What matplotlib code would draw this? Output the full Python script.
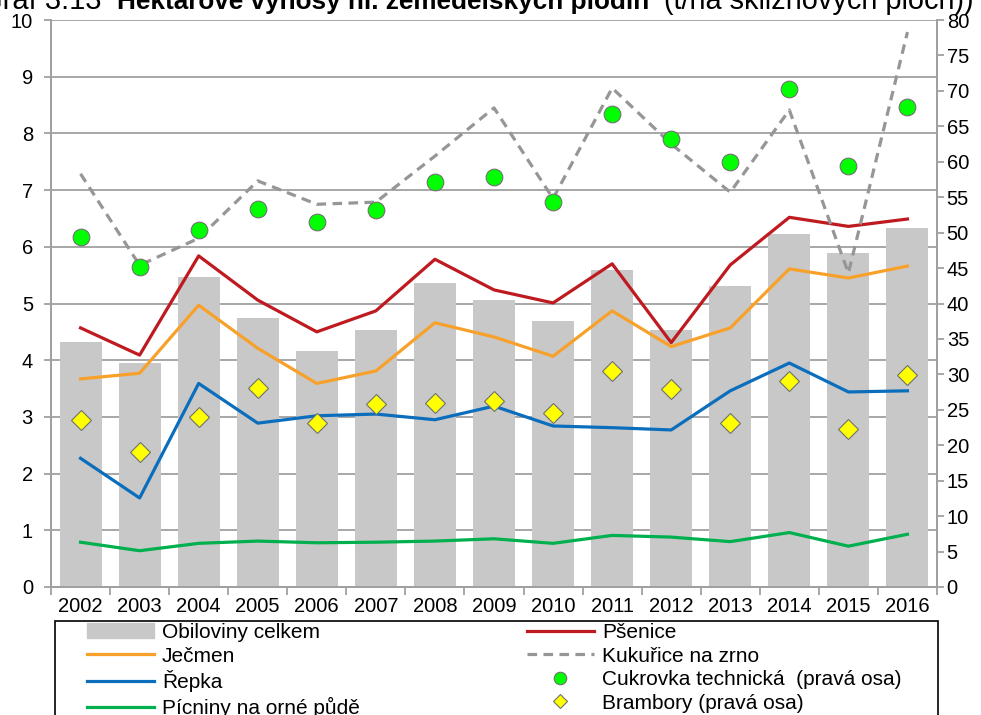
import matplotlib
matplotlib.use("Agg")
import matplotlib.pyplot as plt
from matplotlib.ticker import FixedLocator, NullFormatter
from matplotlib.lines import Line2D
from matplotlib.patches import Patch, Rectangle
import numpy as np

plt.rcParams['font.family'] = ['Liberation Sans', 'DejaVu Sans']

roky = ['2002', '2003', '2004', '2005', '2006', '2007', '2008', '2009',
        '2010', '2011', '2012', '2013', '2014', '2015', '2016']

# leva osa (t/ha)
obiloviny = [4.32, 3.95, 5.47, 4.74, 4.16, 4.53, 5.36, 5.06, 4.69, 5.59, 4.53, 5.31, 6.23, 5.89, 6.33]
psenice = [4.57, 4.09, 5.84, 5.06, 4.50, 4.87, 5.78, 5.24, 5.01, 5.70, 4.31, 5.68, 6.52, 6.36, 6.49]
jecmen = [3.67, 3.77, 4.97, 4.21, 3.59, 3.81, 4.66, 4.41, 4.07, 4.87, 4.24, 4.57, 5.61, 5.45, 5.66]
repka = [2.27, 1.57, 3.59, 2.89, 3.02, 3.05, 2.95, 3.19, 2.84, 2.81, 2.77, 3.46, 3.95, 3.44, 3.46]
picniny = [0.79, 0.64, 0.77, 0.81, 0.78, 0.79, 0.81, 0.85, 0.77, 0.91, 0.88, 0.80, 0.96, 0.72, 0.93]

# prava osa (t/ha)
kukurice = [58.3, 45.4, 49.2, 57.3, 54.0, 54.3, 60.8, 67.6, 54.8, 70.4, 62.5, 55.7, 67.3, 44.3, 78.3]
cukrovka = [49.4, 45.2, 50.4, 53.3, 51.5, 53.2, 57.1, 57.8, 54.3, 66.7, 63.2, 59.9, 70.3, 59.4, 67.7]
brambory = [23.6, 19.0, 24.0, 28.1, 23.1, 25.8, 25.9, 26.2, 24.6, 30.5, 28.0, 23.2, 29.1, 22.3, 29.9]

x = np.arange(len(roky))
osa_barva = '#A0A0A0'
W, H = 981, 715

fig = plt.figure(figsize=(9.81, 7.15), dpi=100)
ax = fig.add_axes([51/W, 128/H, 886/W, 567/H])
ax2 = ax.twinx()

ax.bar(x, obiloviny, width=0.71, color='#C8C8C8', zorder=2)
ax.plot(x, psenice, color='#BE1A20', lw=2.3, zorder=3)
ax.plot(x, jecmen, color='#F8A12A', lw=2.3, zorder=3)
ax.plot(x, repka, color='#0A6EBD', lw=2.3, zorder=3)
ax.plot(x, picniny, color='#00B04F', lw=2.3, zorder=3)

ax2.plot(x, kukurice, color='#969696', lw=2.3, ls=(0, (3, 2)))
ax2.plot(x, cukrovka, ls='none', marker='o', ms=12, mfc='#00FF00', mec='#707070', mew=0.8)
ax2.plot(x, brambory, ls='none', marker='D', ms=10, mfc='#FFFF00', mec='#707070', mew=0.8)

ax.set_xlim(-0.5, 14.5)
ax.set_ylim(0, 10)
ax2.set_ylim(0, 80)
ax.set_yticks(range(0, 11))
ax2.set_yticks(range(0, 81, 5))
ax.set_xticks(x)
ax.set_xticklabels(roky)
ax.xaxis.set_minor_locator(FixedLocator(np.arange(-0.5, 15, 1)))
ax.xaxis.set_minor_formatter(NullFormatter())

ax.grid(axis='y', color=osa_barva, lw=1.3, zorder=0)
ax.set_axisbelow(True)
for a in (ax, ax2):
    for s in a.spines.values():
        s.set_color(osa_barva)
        s.set_linewidth(1.3)
    a.spines['top'].set_visible(False)
ax.tick_params(axis='y', colors=osa_barva, labelcolor='black', labelsize=14.5,
               length=5, width=1.3, pad=8)
ax2.tick_params(axis='y', colors=osa_barva, labelcolor='black', labelsize=14.5,
                length=5, width=1.3, pad=2)
ax.tick_params(axis='x', which='major', length=0, labelsize=14.5, pad=7.5)
ax.tick_params(axis='x', which='minor', length=6, width=1.3, color=osa_barva)

# legenda - dva sloupce, ramecek zvlast
handles1 = [
    Patch(color='#C8C8C8'),
    Line2D([], [], color='#F8A12A', lw=2.3),
    Line2D([], [], color='#0A6EBD', lw=2.3),
    Line2D([], [], color='#00B04F', lw=2.3),
]
labels1 = ['Obiloviny celkem', 'Ječmen', 'Řepka', 'Pícniny na orné půdě']
handles2 = [
    Line2D([], [], color='#BE1A20', lw=2.3),
    Line2D([], [], color='#969696', lw=2.3, ls=(0, (3, 2))),
    Line2D([], [], ls='none', marker='o', ms=9, mfc='#00FF00', mec='#707070', mew=0.8),
    Line2D([], [], ls='none', marker='D', ms=7, mfc='#FFFF00', mec='#707070', mew=0.8),
]
labels2 = ['Pšenice', 'Kukuřice na zrno', 'Cukrovka technická  (pravá osa)', 'Brambory (pravá osa)']

opts = dict(loc='upper left', fontsize=15, frameon=False, borderpad=0,
            labelspacing=0.22, handlelength=3.2, handletextpad=0.4,
            borderaxespad=0, bbox_transform=fig.transFigure)
leg1 = ax2.legend(handles1, labels1, bbox_to_anchor=(87/W, 1 - 623/H), **opts)
ax2.add_artist(leg1)
leg2 = ax2.legend(handles2, labels2, bbox_to_anchor=(527/W, 1 - 623/H), **opts)
fig.patches.append(Rectangle((55/W, -0.05), 883/W, 1 - 621/H + 0.05,
                             transform=fig.transFigure, fill=False,
                             edgecolor='black', lw=1.2))

# nadpis (v predloze oriznuty nahore)
t1 = fig.text(117/W, 1 - 9/H, 'Hektarové výnosy hl. zemědělských plodin',
              fontsize=18.8, fontweight='bold', va='baseline')
fig.text(101/W, 1 - 9/H, 'Graf 3.13', fontsize=21, ha='right', va='baseline')
fig.text(664/W, 1 - 9/H, '(t/ha sklizňových ploch))', fontsize=20.8, va='baseline')

fig.savefig('out.png', dpi=100)
